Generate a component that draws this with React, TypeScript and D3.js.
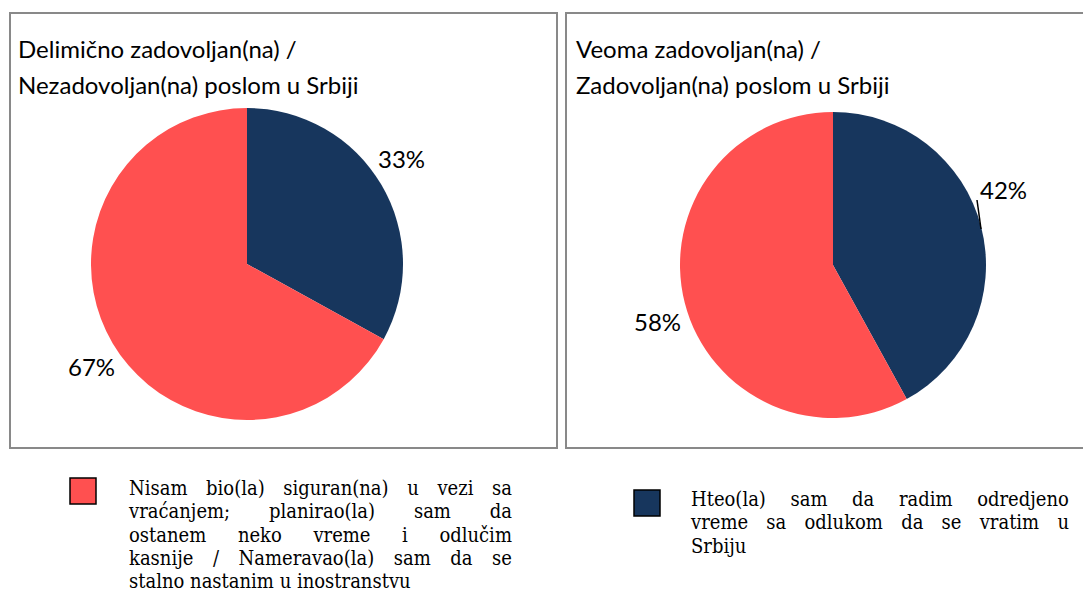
import React from "react";
import * as d3 from "d3";

const categories = [
  "Hteo(la) sam da radim odredjeno vreme sa odlukom da se vratim u Srbiju",
  "Nisam bio(la) siguran(na) u vezi sa vraćanjem; planirao(la) sam da ostanem neko vreme i odlučim kasnije / Nameravao(la) sam da se stalno nastanim u inostranstvu",
];
const colors = ["#17365D", "#FF5050"];
const panelTitles = [
  ["Delimično zadovoljan(na) /", "Nezadovoljan(na) poslom u Srbiji"],
  ["Veoma zadovoljan(na) /", "Zadovoljan(na) poslom u Srbiji"],
];
const leftValues = [33, 67];
const rightValues = [42, 58];

const legendLinesRed = [
  "Nisam bio(la) siguran(na) u vezi sa",
  "vraćanjem; planirao(la) sam da",
  "ostanem neko vreme i odlučim",
  "kasnije / Nameravao(la) sam da se",
  "stalno nastanim u inostranstvu",
];
const legendLinesBlue = [
  "Hteo(la) sam da radim odredjeno",
  "vreme sa odlukom da se vratim u",
  "Srbiju",
];

const SERIF = "'DejaVu Serif', serif";
const SANS = "Lato, 'Open Sans', sans-serif";
const LEG_SIZE = 18;
const LEG_VSCALE = 1.13;

let ctx: CanvasRenderingContext2D | null = null;
function measure(text: string, font: string) {
  if (!ctx) ctx = document.createElement("canvas").getContext("2d");
  ctx!.font = font;
  return ctx!.measureText(text).width;
}

function JustifiedText({ lines, x, width, y0, lh }: any) {
  const font = `${LEG_SIZE}px ${SERIF}`;
  return (
    <g fontFamily={SERIF} fontSize={LEG_SIZE} fill="#000">
      {lines.map((line: string, i: number) => {
        const y = y0 + i * lh;
        const words = line.split(" ");
        const tf = `translate(0,${y}) scale(1,${LEG_VSCALE})`;
        if (i === lines.length - 1 || words.length < 2) {
          return (
            <g key={i} transform={tf}>
              <text x={x} y={0}>
                {line}
              </text>
            </g>
          );
        }
        const ws = words.map((w) => measure(w, font));
        const total = ws.reduce((a, b) => a + b, 0);
        const gap = (width - total) / (words.length - 1);
        let cx = x;
        return (
          <g key={i} transform={tf}>
            {words.map((w, j) => {
              const el = (
                <text key={j} x={cx} y={0}>
                  {w}
                </text>
              );
              cx += ws[j] + gap;
              return el;
            })}
          </g>
        );
      })}
    </g>
  );
}

function Pie({ values, cx, cy, r, labelPos, leader }: any) {
  const pie = d3.pie<number>().sort(null).value((d) => d);
  const arc = d3.arc<d3.PieArcDatum<number>>().innerRadius(0).outerRadius(r);
  const arcs = pie(values);
  return (
    <g>
      <g transform={`translate(${cx},${cy})`}>
        {arcs.map((a, i) => (
          <path key={i} d={arc(a) || ""} fill={colors[i]} />
        ))}
      </g>
      {leader && (
        <line x1={leader[0]} y1={leader[1]} x2={leader[2]} y2={leader[3]} stroke="#000" strokeWidth={1.5} />
      )}
      {arcs.map((a, i) => (
        <text key={i} x={labelPos[i][0]} y={labelPos[i][1]} fontFamily={SANS} fontSize={24} fill="#000">
          {`${values[i]}%`}
        </text>
      ))}
    </g>
  );
}

export default function App() {
  return (
    <svg
      width={1083}
      height={594}
      style={{ position: "absolute", left: 0, top: 0, background: "#fff" }}
    >
      <rect x={0} y={0} width={1083} height={594} fill="#fff" />
      <rect x={10} y={13} width={547} height={435} fill="none" stroke="#898989" strokeWidth={2} />
      <rect x={566} y={13} width={530} height={435} fill="none" stroke="#898989" strokeWidth={2} />
      {panelTitles.map((t, i) => (
        <text key={i} fontFamily={SANS} fontSize={24} fill="#000">
          <tspan x={i === 0 ? 18 : 576} y={58}>{t[0]}</tspan>
          <tspan x={i === 0 ? 18 : 576} y={94}>{t[1]}</tspan>
        </text>
      ))}
      <Pie
        values={leftValues}
        cx={247}
        cy={264}
        r={156}
        labelPos={[
          [378, 168],
          [68, 376],
        ]}
      />
      <Pie
        values={rightValues}
        cx={833}
        cy={265}
        r={153}
        labelPos={[
          [980, 199],
          [634, 331],
        ]}
        leader={[977, 200, 981, 229]}
      />
      <rect x={70} y={478} width={26} height={26} fill={colors[1]} stroke="#000" strokeWidth={1.5} />
      <JustifiedText lines={legendLinesRed} x={129} width={383} y0={495} lh={23.3} />
      <rect x={634} y={490} width={26} height={26} fill={colors[0]} stroke="#000" strokeWidth={1.5} />
      <JustifiedText lines={legendLinesBlue} x={691} width={378} y0={506} lh={23.3} />
      <title>{categories.join(" | ")}</title>
    </svg>
  );
}
